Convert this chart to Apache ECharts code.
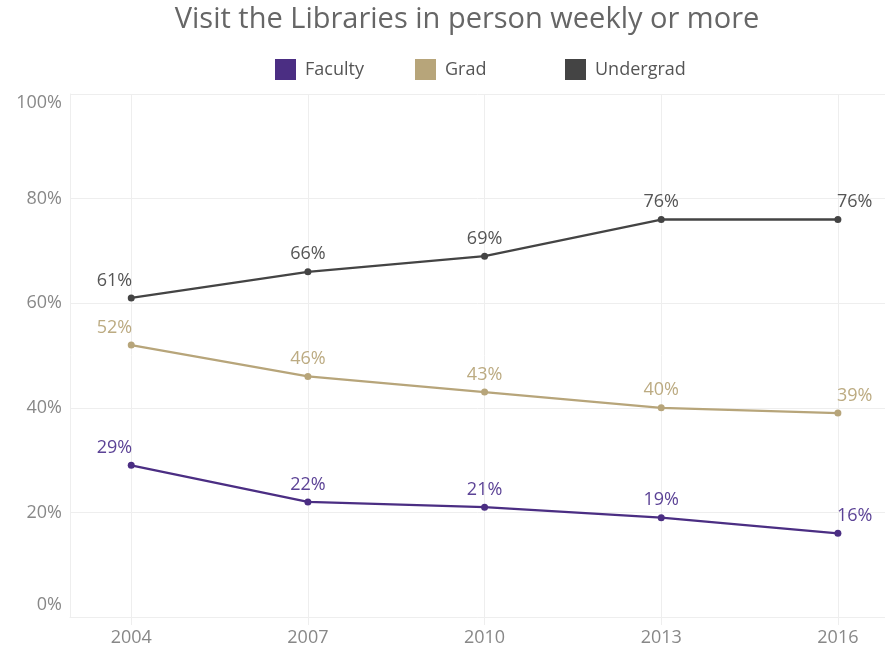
<!DOCTYPE html>
<html>
<head>
<meta charset="utf-8">
<script src="https://cdn.jsdelivr.net/npm/echarts@6/dist/echarts.min.js"></script>
<style>
  html, body { margin: 0; padding: 0; background: #fff; }
  #chart { width: 885px; height: 655px; }
</style>
</head>
<body>
<div id="chart"></div>
<script>
const years = [2004, 2007, 2010, 2013, 2016]
const faculty = [29, 22, 21, 19, 16]
const grad = [52, 46, 43, 40, 39]
const undergrad = [61, 66, 69, 76, 76]
const yTicks = [0, 20, 40, 60, 80, 100]

const FONT = "'Open Sans', 'Noto Sans', sans-serif"
const colors = { Faculty: "#4b2e83", Grad: "#b7a57a", Undergrad: "#444444" }
const labelColors = { Faculty: "#5c4396", Grad: "#bcab82", Undergrad: "#555555" }

const chart = echarts.init(document.getElementById("chart"))

// first label hangs left of the point, last one right of it
const pointLabel = (i, n) => {
  if (i === 0) return { align: "right", offset: [1, 0] }
  if (i === n - 1) return { align: "left", offset: [-1, 0] }
  return {}
}

const makeSeries = (name, values) => ({
  name,
  type: "line",
  data: values.map((v, i) => ({ value: [years[i], v], label: pointLabel(i, values.length) })),
  color: colors[name],
  lineStyle: { width: 2.3 },
  symbol: "circle",
  symbolSize: 7,
  label: {
    show: true,
    position: "top",
    distance: 5,
    formatter: (p) => p.value[1] + "%",
    color: labelColors[name],
    fontFamily: FONT,
    fontSize: 18,
  },
  emphasis: { disabled: true },
})

const legendAt = (name, left) => ({
  data: [name],
  left,
  top: 54,
  icon: "rect",
  itemWidth: 21,
  itemHeight: 21,
  itemGap: 0,
  textStyle: { color: "#555", fontFamily: FONT, fontSize: 18, padding: [0, 0, 0, 4] },
})

const axisText = { color: "#888", fontFamily: FONT, fontSize: 18 }

chart.setOption({
  animation: false,
  title: {
    text: "Visit the Libraries in person weekly or more",
    left: 462,
    textAlign: "center",
    top: 0,
    textStyle: { color: "#666", fontFamily: FONT, fontSize: 29, fontWeight: "normal" },
  },
  legend: [legendAt("Faculty", 270), legendAt("Grad", 410), legendAt("Undergrad", 560)],
  grid: { left: 70, right: 0, top: 94, bottom: 38 },
  xAxis: {
    type: "value",
    min: 2002.96,
    max: 2016.8,
    axisLine: { show: true, lineStyle: { color: "#eeeeee" } },
    axisTick: { show: true, customValues: years, length: 8, lineStyle: { color: "#eeeeee" } },
    axisLabel: {
      ...axisText,
      customValues: years,
      margin: 12,
      formatter: (v) => String(v),
    },
    splitLine: { show: true, lineStyle: { color: "#eeeeee" } },
  },
  yAxis: {
    type: "value",
    min: 0,
    max: 100,
    interval: 20,
    axisLine: { show: true, lineStyle: { color: "#eeeeee" } },
    axisTick: { show: false },
    axisLabel: {
      ...axisText,
      margin: 8,
      formatter: (v) => {
        if (v === yTicks[0]) return "{lo|" + v + "%}"
        if (v === yTicks[yTicks.length - 1]) return "{hi|" + v + "%}"
        return v + "%"
      },
      rich: {
        lo: { ...axisText, padding: [0, 0, 24, 0] },
        hi: { ...axisText, padding: [18, 0, 0, 0] },
      },
    },
    splitLine: { show: true, lineStyle: { color: "#eeeeee" } },
  },
  series: [
    makeSeries("Faculty", faculty),
    makeSeries("Grad", grad),
    makeSeries("Undergrad", undergrad),
  ],
})
</script>
</body>
</html>
